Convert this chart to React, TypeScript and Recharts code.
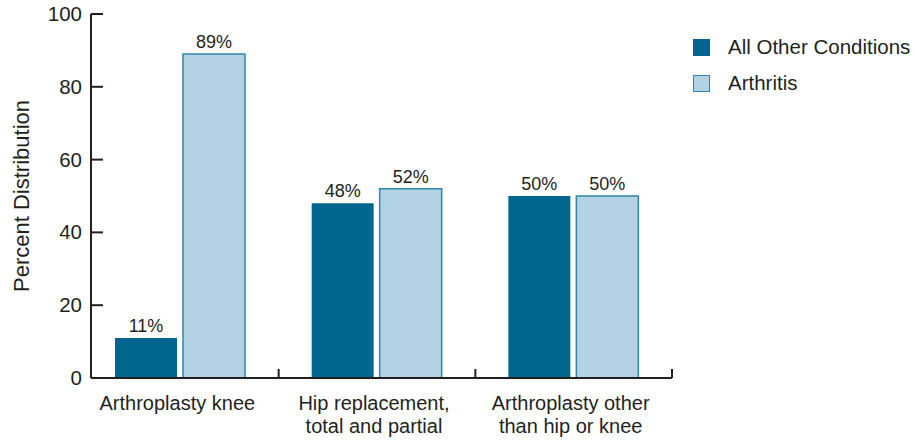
import React from 'react';
import { BarChart, Bar, XAxis, YAxis, LabelList } from 'recharts';

const categories = ['Arthroplasty knee', 'Hip replacement,\ntotal and partial', 'Arthroplasty other\nthan hip or knee'];
const otherConditions = [11, 48, 50];
const arthritis = [89, 52, 50];
const yTicks = [0, 20, 40, 60, 80, 100];

const INK = '#231f20';
const DARK = '#00668e';
const LIGHT = '#b3d3e3';
const LIGHT_EDGE = '#2f86ab';
const FONT = '"Liberation Sans", Arial, Helvetica, sans-serif';

const data = categories.map((name, i) => ({
  name,
  other: otherConditions[i],
  arthritis: arthritis[i],
}));

const pct = (v: number) => `${v}%`;

function YTick(props: any) {
  const { x, y, payload } = props;
  return (
    <g>
      <line x1={x + 9} x2={x + 21} y1={y} y2={y} stroke={INK} strokeWidth={2} />
      <text x={x} y={y} dy={7} textAnchor="end" fontSize={20.5} fill={INK} fontFamily={FONT}>
        {payload.value}
      </text>
    </g>
  );
}

function XTick(props: any) {
  const { x, y, payload } = props;
  const half = payload.offset ?? 98.8;
  const lines = String(payload.value).split('\n');
  return (
    <g>
      <line x1={x + half} x2={x + half} y1={y} y2={y - 9} stroke={INK} strokeWidth={2} />
      {lines.map((l, i) => (
        <text key={i} x={x - 3} y={y + 32 + i * 23} textAnchor="middle" fontSize={20} fill={INK} fontFamily={FONT}>
          {l}
        </text>
      ))}
    </g>
  );
}

function LegendBox() {
  const items = [
    { label: 'All Other Conditions', fill: DARK, edge: DARK },
    { label: 'Arthritis', fill: LIGHT, edge: LIGHT_EDGE },
  ];
  return (
    <div style={{ position: 'absolute', left: 693, top: 29, fontFamily: FONT, fontSize: 20.5, color: INK }}>
      {items.map(it => (
        <div key={it.label} style={{ display: 'flex', alignItems: 'center', height: 36 }}>
          <span
            style={{
              display: 'inline-block',
              width: 15,
              height: 15,
              background: it.fill,
              border: `1px solid ${it.edge}`,
              marginRight: 18,
            }}
          />
          <span>{it.label}</span>
        </div>
      ))}
    </div>
  );
}

export default function App() {
  return (
    <div style={{ position: 'absolute', left: 0, top: 0, width: 913, height: 441, background: '#fff' }}>
      <BarChart
        width={913}
        height={441}
        data={data}
        margin={{ top: 14, right: 241, left: 0, bottom: 0 }}
        barSize={62}
        barGap={6}
      >
        <XAxis
          dataKey="name"
          height={63}
          padding={{ left: -9, right: 0 }}
          axisLine={{ stroke: INK, strokeWidth: 2 }}
          tickLine={false}
          tickSize={0}
          tickMargin={0}
          interval={0}
          tick={<XTick />}
        />
        <YAxis
          width={91}
          domain={[0, 100]}
          ticks={yTicks}
          axisLine={{ stroke: INK, strokeWidth: 2 }}
          tickLine={false}
          tickSize={0}
          tickMargin={9}
          tick={<YTick />}
          label={{
            value: 'Percent Distribution',
            angle: -90,
            position: 'insideLeft',
            offset: 21,
            style: { textAnchor: 'middle', fontSize: 22, fill: INK, fontFamily: FONT },
          }}
        />
        <Bar dataKey="other" fill={DARK} isAnimationActive={false}>
          <LabelList dataKey="other" position="top" offset={6} formatter={pct} style={{ fontSize: 18, fill: INK, fontFamily: FONT }} />
        </Bar>
        <Bar dataKey="arthritis" fill={LIGHT} stroke={LIGHT_EDGE} strokeWidth={1.5} isAnimationActive={false}>
          <LabelList dataKey="arthritis" position="top" offset={6} formatter={pct} style={{ fontSize: 18, fill: INK, fontFamily: FONT }} />
        </Bar>
      </BarChart>
      <LegendBox />
    </div>
  );
}
